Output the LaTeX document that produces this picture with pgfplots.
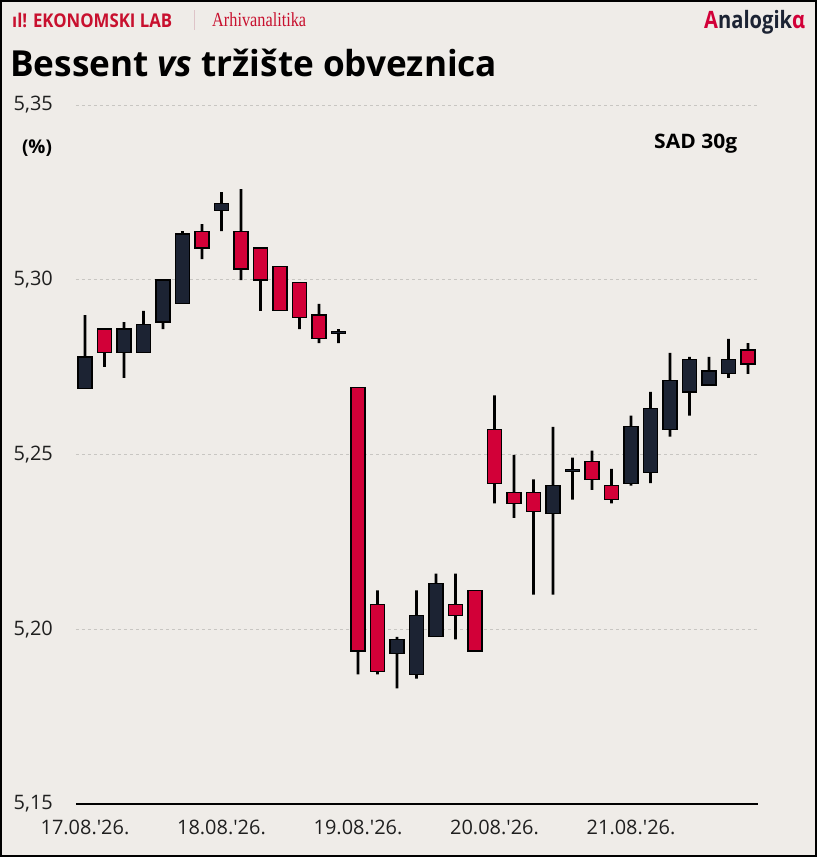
\documentclass[border=0pt]{standalone}
\usepackage{fontspec}
\setmainfont{Open Sans}
\newfontfamily\serifc{Liberation Serif}
\usepackage{graphicx}
\usepackage{pgfplots}
\pgfplotsset{compat=1.18}
\usepackage{pgfplotstable}
\usetikzlibrary{backgrounds}
\definecolor{bg}{RGB}{239,236,232}
\definecolor{candred}{RGB}{210,0,56}
\definecolor{canddark}{RGB}{28,35,51}
\definecolor{gridc}{RGB}{200,198,194}
\definecolor{brandred}{RGB}{200,16,46}
\definecolor{sepc}{RGB}{222,196,200}

\pgfplotstableread{
i o h l c
0 5.2689 5.2899 5.2689 5.2779
1 5.2859 5.2859 5.2751 5.2791
2 5.2791 5.2879 5.2719 5.2859
3 5.2791 5.2911 5.2791 5.2871
4 5.2879 5.2999 5.2859 5.2999
5 5.2931 5.3139 5.2931 5.3131
6 5.3139 5.3159 5.3059 5.3091
7 5.3198 5.3251 5.3139 5.3219
8 5.3139 5.3259 5.2999 5.3031
9 5.3091 5.3091 5.2911 5.2999
10 5.3039 5.3039 5.2911 5.2911
11 5.2991 5.2991 5.2859 5.2891
12 5.2899 5.2931 5.2819 5.2831
13 5.2847 5.2859 5.2819 5.2851
14 5.2691 5.2691 5.1871 5.1938
15 5.2071 5.2111 5.1871 5.1878
16 5.1931 5.1978 5.1831 5.1971
17 5.1871 5.2111 5.1859 5.2039
18 5.1979 5.2159 5.1979 5.2131
19 5.2071 5.2159 5.1971 5.2039
20 5.2111 5.2111 5.1938 5.1938
21 5.2571 5.2669 5.2360 5.2418
22 5.2391 5.2499 5.2319 5.2359
23 5.2391 5.2429 5.2099 5.2338
24 5.2331 5.2579 5.2099 5.2411
25 5.2452 5.2491 5.2371 5.2458
26 5.2479 5.2511 5.2399 5.2429
27 5.2411 5.2459 5.2360 5.2371
28 5.2418 5.2611 5.2411 5.2579
29 5.2449 5.2679 5.2418 5.2631
30 5.2571 5.2791 5.2551 5.2711
31 5.2679 5.2779 5.2611 5.2771
32 5.2699 5.2779 5.2699 5.2739
33 5.2731 5.2831 5.2719 5.2771
34 5.2799 5.2819 5.2731 5.2759
}\candles

\begin{document}
\begin{tikzpicture}[x=1bp,y=1bp]
\begin{axis}[
  name=ax,
  scale only axis, width=682bp, height=699bp,
  xmin=-0.46, xmax=34.51, ymin=5.15, ymax=5.35,
  separate axis lines,
  axis x line*=bottom, axis y line*=left,
  y axis line style={draw=none},
  x axis line style={line width=2bp, black, -},
  major tick length=0pt,
  ytick={5.15,5.2,5.25,5.3,5.35},
  xtick={0,7,14,21,28},
  xticklabels={17.08.\textquotesingle 26., 18.08.\textquotesingle 26., 19.08.\textquotesingle 26., 20.08.\textquotesingle 26., 21.08.\textquotesingle 26.},
  ymajorgrids,
  grid style={gridc, dash pattern=on 3bp off 3bp, line width=0.8bp},
  yticklabel style={font=\fontsize{20}{20}\selectfont, color=black!88, anchor=east, inner sep=0pt, xshift=-23bp},
  xticklabel style={font=\fontsize{20}{20}\selectfont, color=black!88, anchor=north, inner sep=0pt, yshift=-16bp},
  /pgf/number format/.cd, fixed, fixed zerofill, precision=2, use comma, assume math mode=true,
]
% stack: invisible up to low, black wick from low to high, invisible back down to body base, then body
\addplot[ybar, bar width=0.72, bar shift=0pt, stack plots=y, draw=none, fill=none, forget plot]
  table[x=i, y=l] {\candles};
\addplot[ybar, bar width=0.14, bar shift=0pt, stack plots=y, draw=none, fill=black, forget plot]
  table[x=i, y expr={\thisrow{h}-\thisrow{l}}] {\candles};
\addplot[ybar, bar width=0.72, bar shift=0pt, stack plots=y, draw=none, fill=none, forget plot]
  table[x=i, y expr={min(\thisrow{o},\thisrow{c})-\thisrow{h}}] {\candles};
\addplot[ybar, bar width=0.72, bar shift=0pt, stack plots=y, draw=black, line width=1.2bp, fill=canddark, forget plot]
  table[x=i, y expr={(\thisrow{c}>\thisrow{o})*(\thisrow{c}-\thisrow{o})}] {\candles};
\addplot[ybar, bar width=0.72, bar shift=0pt, stack plots=y, draw=black, line width=1.2bp, fill=candred, forget plot]
  table[x=i, y expr={(\thisrow{o}>\thisrow{c})*(\thisrow{o}-\thisrow{c})}] {\candles};
\coordinate (O) at (rel axis cs:0,0);
\end{axis}
\begin{scope}[shift={(O)}, shift={(-76,-53)}]
\pgfresetboundingbox
\useasboundingbox (0,0) rectangle (817,857);
\begin{scope}[on background layer]
\fill[bg] (0,0) rectangle (817,857);
\end{scope}
% header
\node[anchor=west, inner sep=0pt] at (12,837) {\resizebox{160bp}{\height}{\fontsize{19}{19}\selectfont\bfseries\color{brandred}ıl! EKONOMSKI LAB}};
\draw[sepc, line width=0.8bp] (194,827) -- (194,847);
\node[anchor=west, inner sep=0pt] at (212,837) {\resizebox{94bp}{\height}{\serifc\fontsize{20}{20}\selectfont\color{brandred}Arhivanalitika}};
\node[anchor=west, inner sep=0pt] at (704,835) {\resizebox{101bp}{\height}{\fontsize{24}{24}\selectfont\bfseries{\color{candred}A}{\color{canddark}nalogik}{\color{candred}α}}};
\node[anchor=base west, inner sep=0pt] at (10,780) {\resizebox{487bp}{\height}{\fontsize{36}{40}\selectfont\bfseries Bessent \textit{vs} tržište obveznica}};
\node[anchor=center, inner sep=0pt] at (37,709) {\fontsize{19}{19}\selectfont\bfseries (\%)};
\node[anchor=base west, inner sep=0pt] at (654,708) {\resizebox{83bp}{\height}{\fontsize{20}{20}\selectfont\bfseries SAD 30g}};
\draw[black, line width=2bp] (1,1) rectangle (816,856);
\end{scope}
\end{tikzpicture}
\end{document}
